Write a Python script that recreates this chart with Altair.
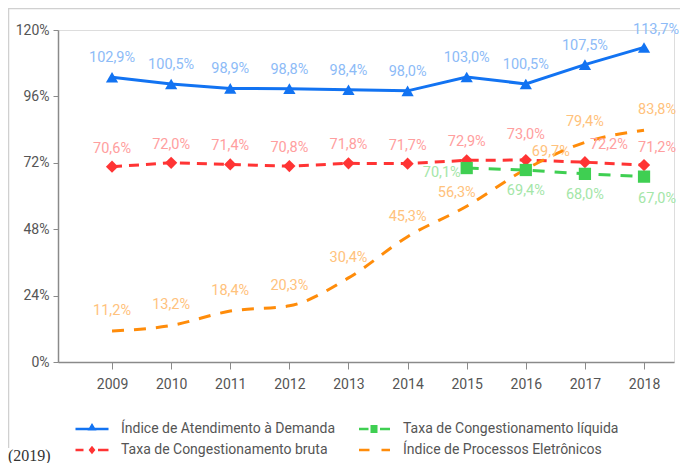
import altair as alt
import pandas as pd

# ---------------- data ----------------
years = [2009, 2010, 2011, 2012, 2013, 2014, 2015, 2016, 2017, 2018]
atendimento = [102.9, 100.5, 98.9, 98.8, 98.4, 98.0, 103.0, 100.5, 107.5, 113.7]
bruta = [70.6, 72.0, 71.4, 70.8, 71.8, 71.7, 72.9, 73.0, 72.2, 71.2]
liquida_years = [2015, 2016, 2017, 2018]
liquida = [70.1, 69.4, 68.0, 67.0]
eletronicos = [11.2, 13.2, 18.4, 20.3, 30.4, 45.3, 56.3, 69.7, 79.4, 83.8]
y_ticks = [0, 24, 48, 72, 96, 120]

S_AT = "Índice de Atendimento à Demanda"
S_LQ = "Taxa de Congestionamento líquida"
S_BR = "Taxa de Congestionamento bruta"
S_EL = "Índice de Processos Eletrônicos"
# legend fills column by column: col 1 = AT, BR ; col 2 = LQ, EL
series_order = [S_AT, S_BR, S_LQ, S_EL]

rows = []
for s, ys, vs in [(S_AT, years, atendimento), (S_BR, years, bruta),
                  (S_LQ, liquida_years, liquida), (S_EL, years, eletronicos)]:
    for y, v in zip(ys, vs):
        rows.append({"serie": s, "ano": y, "valor": v})
df = pd.DataFrame(rows)

# ---------------- style ----------------
FONT = "Roboto"
C_LINE = {S_AT: "#1273f2", S_LQ: "#3fcf52", S_BR: "#ff3434", S_EL: "#ff8c0a"}
C_LABEL = {S_AT: "#8dbbf7", S_LQ: "#a4e6a8", S_BR: "#ff9e9e", S_EL: "#ffc27c"}
AXIS_COL = "#8a8a8a"
TXT_COL = "#555555"
LBL_SIZE = 14.5

X_DOMAIN = [2008.086, 2018.507]
W, H = 616, 332

base = alt.Chart(df).transform_calculate(
    rotulo="replace(format(datum.valor, '.1f'), '.', ',') + '%'"
)

x_enc = alt.X(
    "ano:Q",
    scale=alt.Scale(domain=X_DOMAIN, nice=False, zero=False),
    axis=alt.Axis(values=years, format="d", title=None, grid=False,
                  labelFont=FONT, labelFontSize=14, labelColor=TXT_COL,
                  domainColor=AXIS_COL, tickColor=AXIS_COL, tickSize=7,
                  labelPadding=8, domainWidth=1.5),
)
y_enc = alt.Y(
    "valor:Q",
    scale=alt.Scale(domain=[0, 120], nice=False),
    axis=alt.Axis(values=y_ticks, labelExpr="datum.value + '%'", title=None,
                  grid=False, labelFont=FONT, labelFontSize=14,
                  labelColor=TXT_COL, domainColor=AXIS_COL,
                  tickColor=AXIS_COL, tickSize=5, labelPadding=4,
                  domainWidth=1.5),
)


def line(s, width, dash=None, interp="linear"):
    kw = dict(color=C_LINE[s], strokeWidth=width, interpolate=interp)
    if dash:
        kw["strokeDash"] = dash
    return base.transform_filter(alt.datum.serie == s).mark_line(**kw).encode(
        x=x_enc, y=y_enc)


lines = [
    line(S_BR, 3, [10, 7]),
    line(S_LQ, 3, [12, 10]),
    line(S_AT, 3),
    line(S_EL, 3, [12, 10], "monotone"),
]

# legend glyphs (unit = 10 px)
def rect(x0, x1, h=0.13):
    return f"M{x0},{-h}L{x1},{-h}L{x1},{h}L{x0},{h}Z"

P_AT = rect(-1.65, 1.65) + "M0,-0.6L0.45,0.15L-0.45,0.15Z"
P_BR = rect(-1.65, -0.85) + "M0,-0.42L0.34,0L0,0.42L-0.34,0Z" + rect(0.6, 1.65)
P_LQ = rect(-1.5, -0.55) + "M-0.35,-0.4L0.35,-0.4L0.35,0.4L-0.35,0.4Z" + rect(0.6, 1.6)
P_EL = rect(-1.5, -0.45) + rect(0.75, 1.6)
sym_expr = (f"datum.value === '{S_AT}' ? '{P_AT}' : "
            f"datum.value === '{S_LQ}' ? '{P_LQ}' : "
            f"datum.value === '{S_BR}' ? '{P_BR}' : '{P_EL}'")

points = base.transform_filter(alt.datum.serie != S_EL).mark_point(
    filled=True, opacity=1, strokeWidth=0
).encode(
    x=x_enc, y=y_enc,
    color=alt.Color(
        "serie:N",
        scale=alt.Scale(domain=series_order, range=[C_LINE[s] for s in series_order]),
        legend=alt.Legend(
            title=None, orient="none", legendX=24, legendY=389,
            columns=2, columnPadding=23, rowPadding=4, padding=0,
            symbolSize=400, symbolStrokeWidth=0, symbolOpacity=1,
            symbolType={"expr": sym_expr},
            labelOffset=19, labelFont=FONT, labelFontSize=14,
            labelColor=TXT_COL, labelLimit=400,
        ),
    ),
    shape=alt.Shape(
        "serie:N",
        scale=alt.Scale(domain=[S_AT, S_LQ, S_BR],
                        range=["triangle-up", "square", "diamond"]),
        legend=None,
    ),
    size=alt.Size(
        "serie:N",
        scale=alt.Scale(domain=[S_AT, S_LQ, S_BR], range=[150, 150, 80]),
        legend=None,
    ),
)


def labels(s, dy, overrides):
    out = []
    filt = alt.datum.serie == s
    other = base.transform_filter(filt)
    for yr in overrides:
        other = other.transform_filter(alt.datum.ano != yr)
    out.append(other.mark_text(color=C_LABEL[s], font=FONT, fontSize=LBL_SIZE,
                               dy=dy, baseline="middle")
               .encode(x=x_enc, y=y_enc, text="rotulo:N"))
    for yr, (dx, ddy) in overrides.items():
        out.append(base.transform_filter(filt).transform_filter(alt.datum.ano == yr)
                   .mark_text(color=C_LABEL[s], font=FONT, fontSize=LBL_SIZE,
                              dx=dx, dy=ddy, baseline="middle")
                   .encode(x=x_enc, y=y_enc, text="rotulo:N"))
    return out


text_layers = (
    labels(S_AT, -19, {2018: (12, -17)})
    + labels(S_BR, -18, {2016: (0, -25), 2017: (24, -17), 2018: (13, -17)})
    + labels(S_LQ, 21, {2015: (-25, 5), 2018: (13, 22)})
    + labels(S_EL, -20, {2015: (-10, -13), 2016: (25, -17), 2018: (13, -20)})
)

# frame and source note
deco_df = pd.DataFrame({"t": ["(2019)"]})
frame_top = alt.Chart(deco_df).mark_rule(color="#d0d0d0", strokeWidth=1.5).encode(
    x=alt.value(-50), x2=alt.value(W + 6), y=alt.value(-21.5))
frame_left = alt.Chart(deco_df).mark_rule(color="#d0d0d0", strokeWidth=1.5).encode(
    x=alt.value(-49.5), y=alt.value(-21.5), y2=alt.value(418))
note = alt.Chart(deco_df).mark_text(
    font="Liberation Serif", fontSize=16, color="#333", align="left",
    baseline="alphabetic").encode(x=alt.value(-50), y=alt.value(431), text="t:N")

chart = alt.layer(
    frame_top, frame_left, note, *lines, points, *text_layers
).properties(
    width=W, height=H,
    autosize=alt.AutoSizeParams(type="none"),
    padding={"left": 50, "top": 22, "right": 6, "bottom": 101},
).configure_view(stroke=None).configure(background="white")

chart.save("out.html", embed_options={"renderer": "svg", "actions": False})
